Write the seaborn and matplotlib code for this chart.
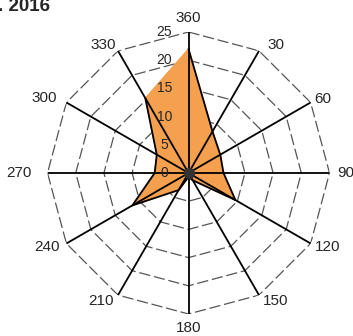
import numpy as np
import pandas as pd
import matplotlib
matplotlib.use("Agg")
import matplotlib.pyplot as plt
import seaborn as sns

sns.set_style("white")
plt.rcParams['font.family'] = ['Liberation Sans', 'DejaVu Sans']

# 风向 (度) 与频率
directions = [0, 30, 60, 90, 120, 150, 180, 210, 240, 270, 300, 330]
dir_labels = ['360', '30', '60', '90', '120', '150', '180', '210', '240', '270', '300', '330']
freq = [22, 8.5, 6.5, 6.2, 9.6, 1.5, 0.7, 3.5, 11.5, 6.0, 6.5, 15.3]
rings = [5, 10, 15, 20, 25]
ring_labels = ['0', '5', '10', '15', '20', '25']
title = '. 2016'

# 方向标签相对外圈顶点的偏移 (像素)
label_dx = [0, 17, 12, 16, 17, 17, 0, -17, -19, -29, -22, -15]
label_dy = [14, 6, 3, 0, -4, -6, -14, -6, -4, 0, 4, 6]

theta = np.deg2rad(directions + [directions[0]])
df = pd.DataFrame({'theta': theta, 'freq': freq + [freq[0]]})

fig = plt.figure(figsize=(3.53, 3.36), dpi=100)
ax = fig.add_axes([0.1346, 0.0655, 0.7989, 0.8393], projection='polar')
ax.set_theta_zero_location('N')
ax.set_theta_direction(-1)
ax.set_ylim(0, 25)
ax.grid(False)
ax.spines['polar'].set_visible(False)
ax.set_xticks([])
ax.set_yticks([])

# 多边形网格
for r in rings:
    ax.plot(theta, [r] * len(theta), color='#555555', lw=0.9,
            linestyle=(0, (9, 3)), zorder=1)
# 辐射线
for d in directions:
    ax.plot([np.deg2rad(d)] * 2, [0, 25], color='black', lw=1.3, zorder=3)

# 数据
ax.fill(df['theta'], df['freq'], color='#F5A04E', zorder=2)
sns.lineplot(data=df, x='theta', y='freq', sort=False, ax=ax,
             color='black', lw=1.3, zorder=4)
ax.plot([0], [0], 'o', color='#333333', ms=7, zorder=5)
ax.set_xlabel('')
ax.set_ylabel('')

for d, lab, dx, dy in zip(directions, dir_labels, label_dx, label_dy):
    ax.annotate(lab, xy=(np.deg2rad(d), 25), xytext=(dx, dy),
                textcoords='offset pixels', ha='center', va='center',
                fontsize=11, annotation_clip=False)
for v, lab in zip([0] + rings, ring_labels):
    ax.annotate(lab, xy=(0, v), xytext=(-24, 0), textcoords='offset pixels',
                ha='center', va='center', fontsize=10, zorder=6)

fig.text(-0.005, 1 - 11 / 336, title, fontsize=13.5, fontweight='bold',
         ha='left', va='baseline')

fig.savefig('out.png', dpi=100)
